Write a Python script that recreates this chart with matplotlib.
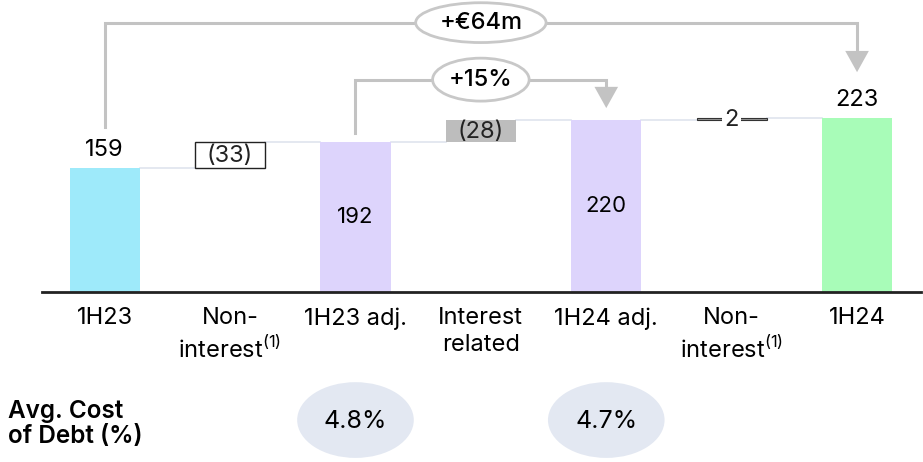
import matplotlib
matplotlib.use("Agg")
import matplotlib.pyplot as plt
from matplotlib.patches import Ellipse, FancyArrowPatch

plt.rcParams['font.family'] = ['Inter', 'DejaVu Sans']
plt.rcParams['mathtext.fontset'] = 'custom'
plt.rcParams['mathtext.rm'] = 'Inter'

# Cost of debt bridge, €m
categories = ['1H23', 'Non-\ninterest$^{(1)}$', '1H23 adj.', 'Interest\nrelated',
              '1H24 adj.', 'Non-\ninterest$^{(1)}$', '1H24']
totals = {0: 159, 2: 192, 4: 220, 6: 223}
steps = {1: (159, 192, '(33)'), 3: (192, 220, '(28)'), 5: (220, 223, '2')}
cost_of_debt = {2: '4.8%', 4: '4.7%'}
bracket_outer = (0, 6, '+€64m')
bracket_inner = (2, 4, '+15%')

total_colors = {0: '#9eeafa', 2: '#ddd4fc', 4: '#ddd4fc', 6: '#a8fcb8'}
grey = '#c3c3c3'
w = 0.56
fs = 16

fig = plt.figure(figsize=(9.23, 4.62), dpi=100)
ax = fig.add_axes([42 / 923, 170 / 462, 879 / 923, 292 / 462])
ax.set_xlim(-0.5, 6.51)
ax.set_ylim(0, 374)

# total bars
for i, v in totals.items():
    ax.bar(i, v, width=w, color=total_colors[i], zorder=2)

# floating step bars
ax.bar(1, steps[1][1] - steps[1][0], bottom=steps[1][0], width=w,
       color='white', edgecolor='#222222', linewidth=1.0, zorder=2)
ax.bar(3, steps[3][1] - steps[3][0], bottom=steps[3][0], width=w,
       color='#bdbdbd', edgecolor='none', zorder=2)
ax.bar(5, steps[5][1] - steps[5][0], bottom=steps[5][0], width=w,
       color='#9a9a9a', edgecolor='#333333', linewidth=0.8, zorder=2)

# connector lines between neighbouring bars
levels = [159, 192, 192, 220, 220, 223]
for i, lv in enumerate(levels):
    ax.plot([i + w / 2, i + 1 - w / 2], [lv, lv], color='#dfe4ee', lw=1.2, zorder=1)

# value labels
ax.text(0, totals[0] + 23, '159', ha='center', va='center', fontsize=fs + 1)
ax.text(6, totals[6] + 23, '223', ha='center', va='center', fontsize=fs + 1)
ax.text(2, totals[2] / 2, '192', ha='center', va='center', fontsize=fs)
ax.text(4, totals[4] / 2, '220', ha='center', va='center', fontsize=fs)
for i, (lo, hi, lab) in steps.items():
    kw = {}
    if i == 5:
        kw['bbox'] = dict(facecolor='white', edgecolor='none', pad=1.5)
    ax.text(i, (lo + hi) / 2 - 1, lab, ha='center', va='center', fontsize=fs + 1,
            color='#222222', zorder=3, **kw)


def bracket(x0, x1, y_start, y_top, y_tip, label, ew, eh):
    ax.plot([x0, x0, x1, x1], [y_start, y_top, y_top, y_tip + 15],
            color=grey, lw=2.2, solid_joinstyle='miter', zorder=1)
    ax.add_patch(FancyArrowPatch((x1, y_tip + 18), (x1, y_tip),
                                 arrowstyle='-|>,head_length=9,head_width=5',
                                 color=grey, lw=0, mutation_scale=1.7, zorder=1))
    xm = (x0 + x1) / 2
    ax.add_patch(Ellipse((xm, y_top), ew, eh, facecolor='white',
                         edgecolor='#c8c8c8', lw=2, zorder=3))
    ax.text(xm, y_top, label, ha='center', va='center', fontsize=fs + 1,
            fontweight='medium', zorder=4)


bracket(bracket_outer[0], bracket_outer[1], totals[0] + 52, 345,
        totals[6] + 55, bracket_outer[2], 1.04, 51)
bracket(bracket_inner[0], bracket_inner[1], totals[2] + 12, 272,
        totals[4] + 12, bracket_inner[2], 0.77, 55)

ax.set_xticks(range(len(categories)))
ax.set_xticklabels(categories, fontsize=17, linespacing=1.3)
ax.tick_params(axis='x', length=0, pad=11)
ax.set_yticks([])
for s in ['top', 'left', 'right']:
    ax.spines[s].set_visible(False)
ax.spines['bottom'].set_linewidth(2)
ax.spines['bottom'].set_color('#222222')

# average cost of debt row
for i, lab in cost_of_debt.items():
    ax.add_patch(Ellipse((i, -164), 0.93, 97, facecolor='#e3e8f2',
                         edgecolor='none', clip_on=False))
    ax.text(i, -166, lab, ha='center', va='center', fontsize=18, clip_on=False)
fig.text(8 / 923, 1 - 424 / 462, 'Avg. Cost\nof Debt (%)', ha='left', va='center',
         fontsize=17.5, fontweight='semibold', linespacing=1.15)

fig.savefig('out.png', dpi=100)
